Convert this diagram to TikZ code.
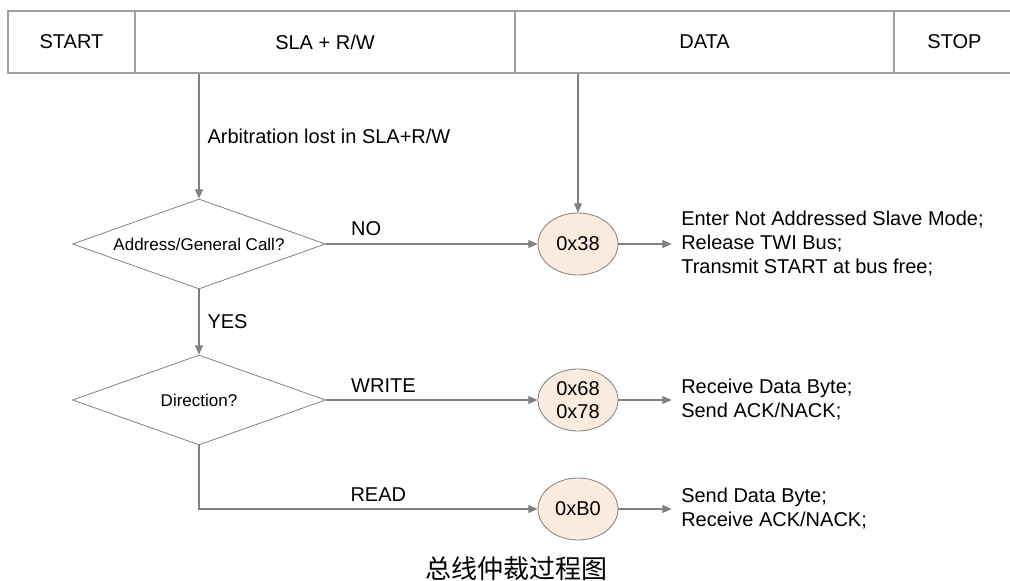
\documentclass[tikz,border=0pt]{standalone}
\usepackage{fontspec}
\setmainfont{Liberation Sans}
\newfontfamily\cjk{Noto Sans CJK SC}
\usetikzlibrary{shapes.geometric,arrows.meta}
\definecolor{linegray}{HTML}{808080}
\definecolor{cellgray}{HTML}{A0A0A0}
\definecolor{peach}{HTML}{FCEBDF}

\begin{document}
\begin{tikzpicture}[x=0.75pt,y=-0.75pt,
  font=\fontsize{15}{18}\selectfont,
  cell/.style={draw=cellgray,line width=.8pt,minimum height=46.5pt,inner sep=0pt},
  decision/.style={diamond,aspect=2.8,draw=linegray,line width=.6pt,minimum width=189.75pt,minimum height=67.5pt,inner sep=0pt,font=\fontsize{12.75}{15}\selectfont},
  state/.style={ellipse,draw=linegray,line width=.6pt,fill=peach,minimum width=60pt,minimum height=46.5pt,inner sep=0pt,align=center,font=\fontsize{15}{17.25}\selectfont},
  flow/.style={draw=linegray,line width=.8pt,-{Triangle[length=7pt,width=6pt]}},
  note/.style={anchor=west,align=left,inner sep=0pt},
  tag/.style={anchor=south west,inner sep=0pt,yshift=5.5pt},
  sidetag/.style={anchor=west,inner sep=0pt,xshift=6pt}
]
  \useasboundingbox (0,0) rectangle (1010,581);
  % frame of the bus transfer
  \node[cell,minimum width=95.25pt] (start) at (71.5,42) {START};
  \node[cell,minimum width=285pt] (sla) at (325,42) {SLA + R/W};
  \node[cell,minimum width=284.25pt] (data) at (704.5,42) {DATA};
  \node[cell,minimum width=90.75pt] (stop) at (954.5,42) {STOP};

  % decisions
  \node[decision] (addr) at (199,244) {Address/General Call?};
  \node[decision] (dir) at (199,400) {Direction?};

  % status codes
  \node[state] (s38) at (578,244) {0x38};
  \node[state] (s68) at (578,400) {0x68\\0x78};
  \node[state] (sb0) at (578,509) {0xB0};

  % actions
  \node[note] (n38) at (681,244) {Enter Not Addressed Slave Mode;\\Release TWI Bus;\\Transmit START at bus free;};
  \node[note] (n68) at (681,400) {Receive Data Byte;\\Send ACK/NACK;};
  \node[note] (nb0) at (681,509) {Send Data Byte;\\Receive ACK/NACK;};

  \draw[flow] (addr.north |- sla.south) -- node[sidetag]{Arbitration lost in SLA+R/W} (addr.north);
  \draw[flow] (s38.north |- data.south) -- (s38.north);
  \draw[flow] (addr.east) -- node[tag,pos=.117]{NO} (s38.west);
  \draw[flow] (addr.south) -- node[sidetag]{YES} (dir.north);
  \draw[flow] (dir.east) -- node[tag,pos=.117]{WRITE} (s68.west);
  \draw[flow] (dir.south) |- node[tag,pos=.723]{READ} (sb0.west);
  \draw[flow] (s38.east) -- ([xshift=-7]n38.west);
  \draw[flow] (s68.east) -- ([xshift=-7]n68.west);
  \draw[flow] (sb0.east) -- ([xshift=-7]nb0.west);

  \node[font=\cjk\fontsize{19.5}{22}\selectfont] (caption) at (516,569) {总线仲裁过程图};
\end{tikzpicture}
\end{document}
